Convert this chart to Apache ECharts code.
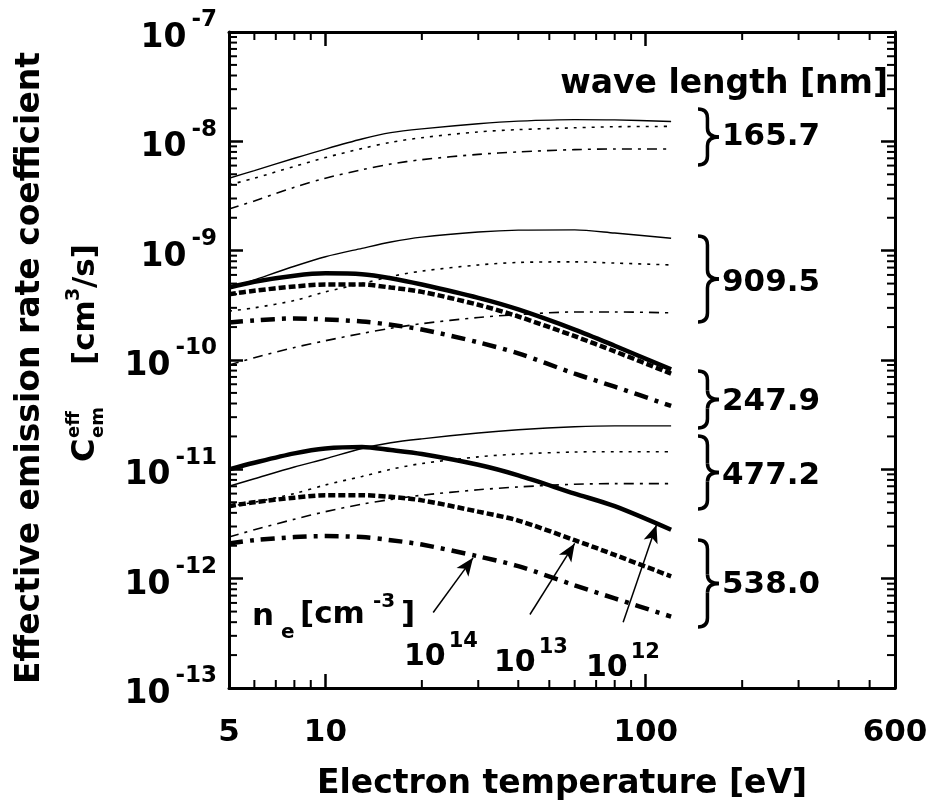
<!DOCTYPE html>
<html>
<head>
<meta charset="utf-8">
<script src="https://cdn.jsdelivr.net/npm/echarts@6.0.0/dist/echarts.min.js"></script>
<style>
  html, body { margin: 0; padding: 0; background: #fff; }
  #main { width: 937px; height: 806px; }
</style>
</head>
<body>
<div id="main"></div>
<script>
// electron temperature [eV]
var temps = [5, 6, 8, 10, 13, 16, 20, 30, 40, 60, 80, 120];

// effective emission rate coefficient [cm^3/s] for ne = 1e12, 1e13, 1e14 cm^-3
var w1657_e12 = [4.6e-9, 5.4e-9, 7.0e-9, 8.5e-9, 1.05e-8, 1.2e-8, 1.3e-8, 1.45e-8, 1.53e-8, 1.58e-8, 1.57e-8, 1.52e-8];
var w1657_e13 = [4.0e-9, 4.6e-9, 5.9e-9, 7.1e-9, 8.6e-9, 9.8e-9, 1.08e-8, 1.22e-8, 1.28e-8, 1.33e-8, 1.36e-8, 1.37e-8];
var w1657_e14 = [2.4e-9, 2.85e-9, 3.8e-9, 4.6e-9, 5.5e-9, 6.2e-9, 6.8e-9, 7.6e-9, 8.0e-9, 8.4e-9, 8.5e-9, 8.5e-9];

var w9095_e12 = [4.5e-10, 5.4e-10, 7.2e-10, 8.8e-10, 1.05e-9, 1.2e-9, 1.33e-9, 1.48e-9, 1.54e-9, 1.55e-9, 1.45e-9, 1.3e-9];
var w9095_e13 = [2.8e-10, 3.0e-10, 3.5e-10, 4.2e-10, 5.0e-10, 5.8e-10, 6.5e-10, 7.4e-10, 7.8e-10, 7.9e-10, 7.7e-10, 7.4e-10];
var w9095_e14 = [9.0e-11, 1.05e-10, 1.3e-10, 1.5e-10, 1.75e-10, 1.95e-10, 2.15e-10, 2.45e-10, 2.6e-10, 2.75e-10, 2.75e-10, 2.7e-10];

var w2479_e12 = [4.6e-10, 5.2e-10, 5.9e-10, 6.2e-10, 6.1e-10, 5.6e-10, 4.9e-10, 3.7e-10, 2.9e-10, 1.9e-10, 1.35e-10, 8.2e-11];
var w2479_e13 = [4.0e-10, 4.3e-10, 4.7e-10, 4.9e-10, 4.9e-10, 4.6e-10, 4.2e-10, 3.2e-10, 2.5e-10, 1.65e-10, 1.2e-10, 7.5e-11];
var w2479_e14 = [2.2e-10, 2.3e-10, 2.4e-10, 2.35e-10, 2.25e-10, 2.1e-10, 1.9e-10, 1.45e-10, 1.15e-10, 7.5e-11, 5.7e-11, 3.8e-11];

var w4772_e12 = [7.0e-12, 8.2e-12, 1.05e-11, 1.25e-11, 1.55e-11, 1.75e-11, 1.9e-11, 2.15e-11, 2.3e-11, 2.45e-11, 2.5e-11, 2.5e-11];
var w4772_e13 = [4.6e-12, 5.0e-12, 6.0e-12, 7.2e-12, 8.6e-12, 1.0e-11, 1.13e-11, 1.3e-11, 1.38e-11, 1.44e-11, 1.45e-11, 1.45e-11];
var w4772_e14 = [2.4e-12, 2.8e-12, 3.5e-12, 4.1e-12, 4.8e-12, 5.3e-12, 5.8e-12, 6.5e-12, 6.9e-12, 7.3e-12, 7.4e-12, 7.4e-12];

var w5380_e12 = [1.0e-11, 1.15e-11, 1.4e-11, 1.55e-11, 1.6e-11, 1.5e-11, 1.38e-11, 1.1e-11, 8.8e-12, 6.0e-12, 4.6e-12, 2.8e-12];
var w5380_e13 = [4.6e-12, 5.0e-12, 5.5e-12, 5.8e-12, 5.8e-12, 5.6e-12, 5.2e-12, 4.1e-12, 3.4e-12, 2.25e-12, 1.65e-12, 1.05e-12];
var w5380_e14 = [2.1e-12, 2.25e-12, 2.4e-12, 2.45e-12, 2.4e-12, 2.25e-12, 2.05e-12, 1.6e-12, 1.3e-12, 8.7e-13, 6.6e-13, 4.5e-13];

// wave length labels (top to bottom)
var waveLabels = ['165.7', '909.5', '247.9', '477.2', '538.0'];

// axis ranges and minor ticks
var xMin = 5, xMax = 600;
var yMin = 1e-13, yMax = 1e-7;
var minorXTicks = [6, 7, 8, 9, 20, 30, 40, 50, 60, 70, 80, 90, 200, 300, 400, 500];
var yDecades = [-13, -12, -11, -10, -9, -8];
var minorMantissas = [2, 3, 4, 5, 6, 7, 8, 9];

// density arrows: [from, to]
var arrowFrom = [[21.7, 4.9e-13], [43.5, 4.7e-13], [85, 4.0e-13]];
var arrowTo = [[28.9, 1.55e-12], [60, 2.1e-12], [108, 3.1e-12]];
var densityLabels = ['14', '13', '12'];

var FONT = '"DejaVu Sans", sans-serif';

var thinSolid = {color: '#000', width: 1.4, type: 'solid'};
var thinDot = {color: '#000', width: 1.6, type: [3, 6]};
var thinDashDot = {color: '#000', width: 1.6, type: [10, 6, 3, 6]};
var thickSolid = {color: '#000', width: 4.5, type: 'solid'};
var thickDash = {color: '#000', width: 4.5, type: [7, 3]};
var thickDashDot = {color: '#000', width: 4.5, type: [14, 7, 4, 7]};

function makeSeries(values, style) {
    return {
        type: 'line',
        smooth: 0.3,
        symbol: 'none',
        silent: true,
        data: temps.map(function (t, i) { return [t, values[i]]; }),
        lineStyle: style
    };
}

var series = [
    makeSeries(w1657_e12, thinSolid),
    makeSeries(w1657_e13, thinDot),
    makeSeries(w1657_e14, thinDashDot),
    makeSeries(w9095_e12, thinSolid),
    makeSeries(w9095_e13, thinDot),
    makeSeries(w9095_e14, thinDashDot),
    makeSeries(w2479_e12, thickSolid),
    makeSeries(w2479_e13, thickDash),
    makeSeries(w2479_e14, thickDashDot),
    makeSeries(w4772_e12, thinSolid),
    makeSeries(w4772_e13, thinDot),
    makeSeries(w4772_e14, thinDashDot),
    makeSeries(w5380_e12, thickSolid),
    makeSeries(w5380_e13, thickDash),
    makeSeries(w5380_e14, thickDashDot)
];

// arrows to the 538.0 nm curves
series[14].markLine = {
    silent: true,
    symbol: ['none', 'arrow'],
    symbolSize: [11, 18],
    label: {show: false},
    lineStyle: {color: '#000', width: 1.5, type: 'solid'},
    data: arrowFrom.map(function (p, i) {
        return [{coord: p}, {coord: arrowTo[i]}];
    })
};

var axisLine = {show: true, lineStyle: {color: '#000', width: 3}};
var majorTick = {show: true, inside: true, length: 14, lineStyle: {color: '#000', width: 2.5}};

var chart = echarts.init(document.getElementById('main'));

chart.setOption({
    animation: false,
    backgroundColor: '#fff',
    grid: {left: 229, top: 32, right: 42, bottom: 101},
    xAxis: [
        {
            type: 'log', position: 'bottom', min: xMin, max: xMax,
            axisLine: axisLine, axisTick: majorTick, splitLine: {show: false},
            axisLabel: {color: '#000', fontSize: 31, fontWeight: 'bold', fontFamily: FONT, margin: 29},
            name: 'Electron temperature [eV]', nameLocation: 'middle', nameGap: 80,
            nameTextStyle: {color: '#000', fontSize: 33, fontWeight: 'bold', fontFamily: FONT}
        },
        {
            type: 'log', position: 'top', min: xMin, max: xMax,
            axisLine: axisLine, axisTick: majorTick, splitLine: {show: false},
            axisLabel: {show: false}
        }
    ],
    yAxis: [
        {
            type: 'log', position: 'left', min: yMin, max: yMax,
            axisLine: axisLine, axisTick: majorTick, splitLine: {show: false},
            axisLabel: {
                margin: 12,
                formatter: function (v) {
                    return '{b|10}{s|' + Math.round(Math.log10(v)) + '}';
                },
                rich: {
                    b: {color: '#000', fontSize: 33, fontWeight: 'bold', fontFamily: FONT, padding: [13, 0, 0, 0]},
                    s: {color: '#000', fontSize: 23, fontWeight: 'bold', fontFamily: FONT, verticalAlign: 'top', padding: [0, 0, 0, 5]}
                }
            }
        },
        {
            type: 'log', position: 'right', min: yMin, max: yMax,
            axisLine: axisLine, axisTick: majorTick, splitLine: {show: false},
            axisLabel: {show: false}
        }
    ],
    series: series
});

// ---- annotations (minor ticks, braces, labels) ----
function seg(x1, y1, x2, y2, w) {
    return {type: 'line', silent: true, shape: {x1: x1, y1: y1, x2: x2, y2: y2},
        style: {stroke: '#000', lineWidth: w || 2}};
}

function quad(x1, y1, cx, cy, x2, y2) {
    return {type: 'bezierCurve', silent: true,
        shape: {x1: x1, y1: y1, cpx1: cx, cpy1: cy, x2: x2, y2: y2},
        style: {stroke: '#000', lineWidth: 3.5, fill: null}};
}

function txt(x, y, s, size, align, valign) {
    return {type: 'text', x: x, y: y, silent: true,
        style: {text: s, fill: '#000', fontSize: size, fontWeight: 'bold', fontFamily: FONT,
            textAlign: align || 'left', textVerticalAlign: valign || 'middle'}};
}

// right-facing curly brace built from curves and lines
function brace(x, top, bottom, w) {
    var h = bottom - top, a = x + w * 0.45, r = Math.min(9, h / 6), m = top + h / 2;
    return [
        quad(x, top, a, top, a, top + r),
        seg(a, top + r, a, m - r, 3.5),
        quad(a, m - r, a, m, x + w, m),
        quad(x + w, m, a, m, a, m + r),
        seg(a, m + r, a, bottom - r, 3.5),
        quad(a, bottom - r, a, bottom, x, bottom)
    ];
}

var graphics = [];

var gx0 = chart.convertToPixel({xAxisIndex: 0}, xMin);
var gx1 = chart.convertToPixel({xAxisIndex: 0}, xMax);
var gyB = chart.convertToPixel({yAxisIndex: 0}, yMin);
var gyT = chart.convertToPixel({yAxisIndex: 0}, yMax);

minorXTicks.forEach(function (t) {
    var px = chart.convertToPixel({xAxisIndex: 0}, t);
    graphics.push(seg(px, gyB, px, gyB - 8));
    graphics.push(seg(px, gyT, px, gyT + 8));
});
yDecades.forEach(function (e) {
    minorMantissas.forEach(function (k) {
        var py = chart.convertToPixel({yAxisIndex: 0}, k * Math.pow(10, e));
        graphics.push(seg(gx0, py, gx0 + 8, py));
        graphics.push(seg(gx1, py, gx1 - 8, py));
    });
});

// wave length legend
var braceTop = [109, 236, 371, 436, 540];
var braceBottom = [165, 322, 428, 509, 627];
var labelY = [137, 283, 402, 476, 585];
graphics.push(txt(888, 84, 'wave length [nm]', 33, 'right'));
waveLabels.forEach(function (s, i) {
    graphics = graphics.concat(brace(698, braceTop[i], braceBottom[i], 21));
    graphics.push(txt(722, labelY[i], s, 31, 'left'));
});

// density legend
graphics.push(txt(252, 617, 'n', 31));
graphics.push(txt(281, 633, 'e', 20));
graphics.push(txt(300, 615, '[cm', 31));
graphics.push(txt(373, 602, '-3', 20));
graphics.push(txt(401, 615, ']', 31));
var densX = [404, 494, 586];
var densY = [652, 658, 663];
densityLabels.forEach(function (s, i) {
    graphics.push({type: 'text', x: densX[i], y: densY[i], silent: true,
        style: {text: '{b|10}{s|' + s + '}', textAlign: 'left', textVerticalAlign: 'middle',
            rich: {
                b: {fill: '#000', fontSize: 30, fontWeight: 'bold', fontFamily: FONT, padding: [11, 0, 0, 0]},
                s: {fill: '#000', fontSize: 21, fontWeight: 'bold', fontFamily: FONT, verticalAlign: 'top', padding: [0, 0, 0, 3]}
            }}});
});

// y axis titles (rotated)
graphics.push({type: 'group', x: 30, y: 368, rotation: Math.PI / 2, children: [
    txt(0, 0, 'Effective emission rate coefficient', 33, 'center')
]});
graphics.push({type: 'group', x: 86, y: 351, rotation: Math.PI / 2, children: [
    txt(-111, 0, 'C', 32),
    txt(-87, -12, 'eff', 18),
    txt(-87, 12, 'em', 18),
    txt(-14, 0, '[cm', 31),
    txt(50, -12, '3', 19),
    txt(63, 0, '/s]', 31)
]});

chart.setOption({graphic: graphics});
</script>
</body>
</html>
